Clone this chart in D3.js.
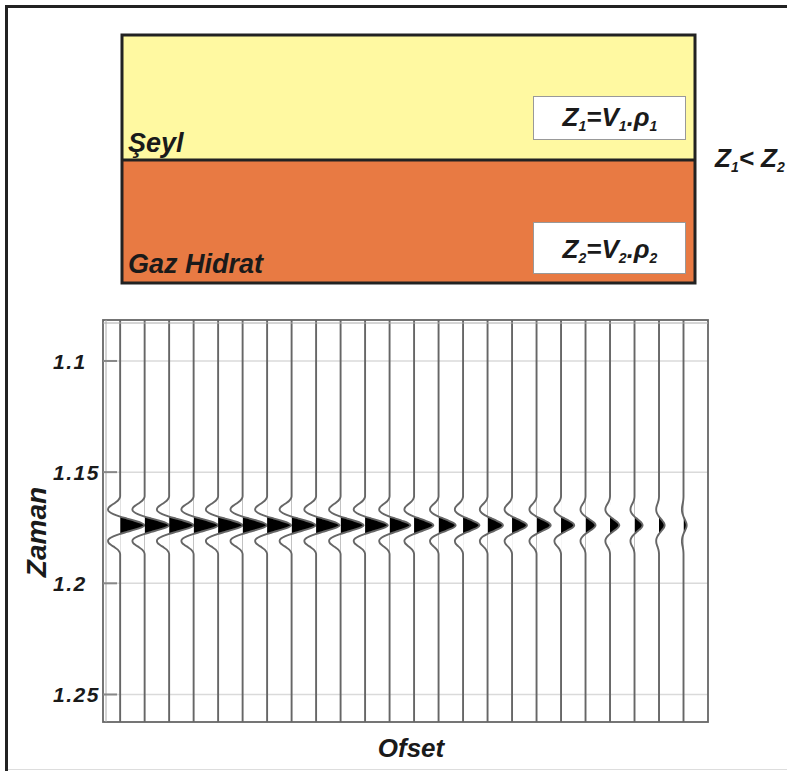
<!DOCTYPE html>
<html>
<head>
<meta charset="utf-8">
<script src="https://cdn.jsdelivr.net/npm/d3@7"></script>
<style>
  body { margin: 0; background: #fff; }
  svg { display: block; }
  text { font-family: "Liberation Sans", Arial, sans-serif; font-weight: bold; font-style: italic; fill: #1a1a1a; }
</style>
</head>
<body>
<svg id="graph" width="787" height="771"></svg>
<script>
/*******************************************************************************************/
// Data

var offsets = [1, 2, 3, 4, 5, 6, 7, 8, 9, 10, 11, 12, 13, 14, 15, 16, 17, 18, 19, 20, 21, 22, 23, 24];
var traceAmps = [0.99, 1.0, 1.0, 1.0, 1.0, 0.99, 0.98, 0.98, 0.96, 0.94, 0.93, 0.85,
                 0.79, 0.7, 0.67, 0.63, 0.61, 0.58, 0.54, 0.41, 0.38, 0.33, 0.23, 0.13];
var eventTime = 1.1741;
var waveMs  = [-13, -12, -11, -10, -9, -8, -7, -6, -5, -4, -3, -2, -1, 0, 1, 2, 3, 4, 5, 6, 7, 8, 9, 10, 11, 12, 13];
var waveAmp = [0, -0.03, -0.1, -0.22, -0.36, -0.47, -0.5, -0.44, -0.28, -0.03, 0.28, 0.6, 0.88, 1.0,
               0.88, 0.6, 0.28, -0.03, -0.28, -0.44, -0.5, -0.47, -0.36, -0.22, -0.1, -0.03, 0];
var yTicks = [1.1, 1.15, 1.2, 1.25];
var timeRange = [1.0818, 1.2626];
var offsetRange = [0.3, 25];

var layerNames = ['Şeyl', 'Gaz Hidrat'];

/*******************************************************************************************/
// Frame and layer model

var svg = d3.select('#graph');

svg.append('line').attr('x1', 5).attr('y1', 6.5).attr('x2', 787).attr('y2', 6.5)
   .style('stroke', '#222').style('stroke-width', 3);
svg.append('line').attr('x1', 6.5).attr('y1', 5).attr('x2', 6.5).attr('y2', 771)
   .style('stroke', '#222').style('stroke-width', 3);
svg.append('line').attr('x1', 8).attr('y1', 769.5).attr('x2', 787).attr('y2', 769.5)
   .style('stroke', '#ddd').style('stroke-width', 1);

var model = svg.append('g').attr('id', 'model');
model.append('rect').attr('x', 122).attr('y', 35).attr('width', 573).attr('height', 125).style('fill', '#fff9a1');
model.append('rect').attr('x', 122).attr('y', 160).attr('width', 573).attr('height', 123).style('fill', '#e87a43');
model.append('line').attr('x1', 122).attr('y1', 160).attr('x2', 695).attr('y2', 160)
     .style('stroke', '#222').style('stroke-width', 3);
model.append('rect').attr('x', 122).attr('y', 35).attr('width', 573).attr('height', 248)
     .style('fill', 'none').style('stroke', '#222').style('stroke-width', 3);

model.append('text').attr('x', 128).attr('y', 152).style('font-size', '27px').text(layerNames[0]);
model.append('text').attr('x', 128).attr('y', 273).style('font-size', '27px').text(layerNames[1]);

function impedance(g, cx, cy, n){
  var t = g.append('text').attr('x', cx).attr('y', cy).style('font-size', '26px').style('text-anchor', 'middle');
  t.append('tspan').text('Z');
  t.append('tspan').attr('dy', 5).style('font-size', '14px').text(n);
  t.append('tspan').attr('dy', -5).text('=V');
  t.append('tspan').attr('dy', 5).style('font-size', '14px').text(n);
  t.append('tspan').attr('dy', -5).text('.ρ');
  t.append('tspan').attr('dy', 5).style('font-size', '14px').text(n);
}

model.append('rect').attr('x', 533.5).attr('y', 96.5).attr('width', 152).attr('height', 43)
     .style('fill', '#fff').style('stroke', '#999').style('stroke-width', 1);
impedance(model, 610, 126, '1');
model.append('rect').attr('x', 533.5).attr('y', 222.5).attr('width', 152).attr('height', 51)
     .style('fill', '#fff').style('stroke', '#999').style('stroke-width', 1);
impedance(model, 610, 258, '2');

var cmp = model.append('text').attr('x', 715).attr('y', 167).style('font-size', '26px');
cmp.append('tspan').text('Z');
cmp.append('tspan').attr('dy', 5).style('font-size', '14px').text('1');
cmp.append('tspan').attr('dy', -5).text('< Z');
cmp.append('tspan').attr('dy', 5).style('font-size', '14px').text('2');

/*******************************************************************************************/
// Seismic gather

var pLeft = 103, pRight = 708, pTop = 320, pBottom = 722;
var xScale = d3.scaleLinear().domain(offsetRange).range([pLeft, pRight]);
var yScale = d3.scaleLinear().domain(timeRange).range([pTop, pBottom]);

var plot = svg.append('g').attr('id', 'plot');

// gridlines
plot.append('g').attr('transform', 'translate(' + pLeft + ',0)')
    .call(d3.axisLeft(yScale).tickValues(yTicks).tickSize(-(pRight - pLeft)).tickFormat(''))
    .call(function(g){
      g.select('.domain').remove();
      g.selectAll('line').style('stroke', '#dadada').style('stroke-width', 1.5);
    });

// traces
var defs = svg.append('defs');
var traceLine = d3.line().curve(d3.curveMonotoneY)
  .x(function(d){ return d.x }).y(function(d){ return d.y });
var traceArea = d3.area().curve(d3.curveMonotoneY)
  .y(function(d){ return d.y }).x0(function(d){ return d.x0 }).x1(function(d){ return d.x });

offsets.forEach(function(o, i){
  var pts = [{ x: xScale(o), x0: xScale(o), y: yScale(timeRange[0]) }];
  for(var k = 0; k < waveMs.length; k++){
    pts.push({ x: xScale(o + waveAmp[k] * traceAmps[i]), x0: xScale(o), y: yScale(eventTime + waveMs[k] / 1000) });
  }
  pts.push({ x: xScale(o), x0: xScale(o), y: yScale(timeRange[1]) });

  defs.append('clipPath').attr('id', 'clip' + i)
      .append('rect').attr('x', xScale(o)).attr('y', pTop).attr('width', 60).attr('height', pBottom - pTop);

  plot.append('path').attr('d', traceArea(pts)).attr('clip-path', 'url(#clip' + i + ')')
      .style('fill', '#000');
  plot.append('path').attr('d', traceLine(pts))
      .style('fill', 'none').style('stroke', '#666').style('stroke-width', 1.9);
});

// frame
plot.append('rect').attr('x', pLeft).attr('y', pTop).attr('width', pRight - pLeft).attr('height', pBottom - pTop)
    .style('fill', 'none').style('stroke', '#666').style('stroke-width', 1.8);
plot.append('line').attr('x1', pLeft).attr('y1', pTop + 3).attr('x2', pRight).attr('y2', pTop + 3)
    .style('stroke', '#aaa').style('stroke-width', 1);
plot.append('line').attr('x1', pLeft + 3).attr('y1', pTop).attr('x2', pLeft + 3).attr('y2', pBottom)
    .style('stroke', '#aaa').style('stroke-width', 1);

// y axis ticks and labels
plot.append('g').attr('transform', 'translate(' + pLeft + ',0)')
    .call(d3.axisLeft(yScale).tickValues(yTicks).tickSize(-14).tickFormat(d3.format('')))
    .call(function(g){
      g.select('.domain').remove();
      g.selectAll('line').style('stroke', '#888').style('stroke-width', 2);
      g.selectAll('text').attr('x', -50).attr('dy', '0.36em')
       .style('text-anchor', 'start').style('font-size', '21px').style('letter-spacing', '1.5px')
       .style('font-family', '"Liberation Sans", Arial, sans-serif').style('fill', '#1a1a1a');
    });

plot.append('text').attr('transform', 'translate(46,532) rotate(-90)')
    .style('text-anchor', 'middle').style('font-size', '28px').text('Zaman');
plot.append('text').attr('x', 411).attr('y', 757)
    .style('text-anchor', 'middle').style('font-size', '26px').text('Ofset');
</script>
</body>
</html>
